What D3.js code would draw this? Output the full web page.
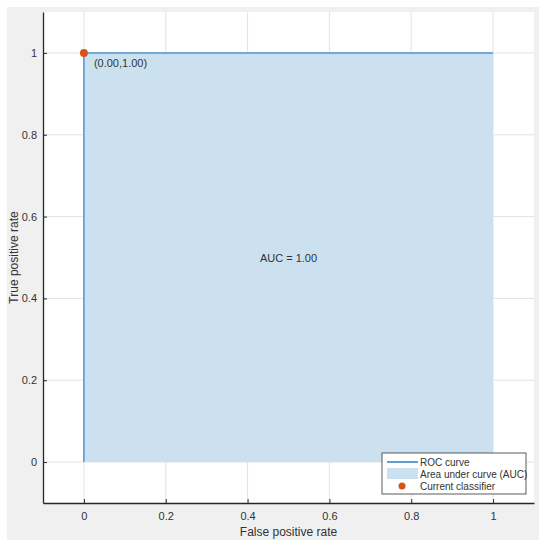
<!DOCTYPE html>
<html>
<head>
<meta charset="utf-8">
<script src="https://cdn.jsdelivr.net/npm/d3@7"></script>
<style>
  body { margin: 0; background: #fff; }
  text { font-family: "Liberation Sans", Arial, sans-serif; fill: #333; }
</style>
</head>
<body>
<script>
'use strict';

// ROC curve points (false positive rate, true positive rate)
const rocFpr = [0, 0, 1];
const rocTpr = [0, 1, 1];
// current classifier operating point
const currentPoint = { fpr: 0, tpr: 1 };
const aucValue = 1.00;
const xTicks = [0, 0.2, 0.4, 0.6, 0.8, 1];
const yTicks = [0, 0.2, 0.4, 0.6, 0.8, 1];
const legendLabels = ["ROC curve", "Area under curve (AUC)", "Current classifier"];

const width = 550, height = 548;
const blue = "#4f95cf", fillBlue = "#cbe1f0", orange = "#d95319";

const svg = d3.select("body").append("svg")
  .attr("width", width)
  .attr("height", height);

// gray figure panel
svg.append("rect")
  .attr("x", 7).attr("y", 7)
  .attr("width", 532).attr("height", 533)
  .attr("fill", "#f0f0f0");

const plot = { left: 43, right: 534, top: 12, bottom: 503 };

svg.append("rect")
  .attr("x", plot.left).attr("y", plot.top)
  .attr("width", plot.right - plot.left).attr("height", plot.bottom - plot.top)
  .attr("fill", "#fff");

const xScale = d3.scaleLinear().domain([-0.1, 1.1]).range([plot.left, plot.right]);
const yScale = d3.scaleLinear().domain([-0.1, 1.1]).range([plot.bottom, plot.top]);

// grid
svg.append("g").selectAll("line").data(xTicks).enter().append("line")
  .attr("x1", d => xScale(d)).attr("x2", d => xScale(d))
  .attr("y1", plot.top).attr("y2", plot.bottom)
  .attr("stroke", "#e3e3e3").attr("stroke-width", 1);
svg.append("g").selectAll("line").data(yTicks).enter().append("line")
  .attr("y1", d => yScale(d)).attr("y2", d => yScale(d))
  .attr("x1", plot.left).attr("x2", plot.right)
  .attr("stroke", "#e3e3e3").attr("stroke-width", 1);

// area under curve
const pts = rocFpr.map((x, i) => ({ x: x, y: rocTpr[i] }));
const area = d3.area()
  .x(d => xScale(d.x))
  .y0(yScale(0))
  .y1(d => yScale(d.y));
svg.append("path")
  .datum(pts)
  .attr("d", area)
  .attr("fill", fillBlue);

const line = d3.line().x(d => xScale(d.x)).y(d => yScale(d.y));
svg.append("path")
  .datum(pts)
  .attr("d", line)
  .attr("fill", "none")
  .attr("stroke", blue)
  .attr("stroke-width", 1.5);

// axes (MATLAB style: inward ticks)
const xAxis = d3.axisBottom(xScale).tickValues(xTicks).tickFormat(d3.format("~g"))
  .tickSizeInner(-4).tickSizeOuter(0).tickPadding(9);
const gx = svg.append("g")
  .attr("transform", "translate(0," + plot.bottom + ")")
  .call(xAxis);

const yAxis = d3.axisLeft(yScale).tickValues(yTicks).tickFormat(d3.format("~g"))
  .tickSizeInner(-4).tickSizeOuter(0).tickPadding(6);
const gy = svg.append("g")
  .attr("transform", "translate(" + plot.left + ",0)")
  .call(yAxis);

[gx, gy].forEach(g => {
  g.select(".domain").attr("stroke", "#262626").attr("stroke-width", 1.3);
  g.selectAll(".tick line").attr("stroke", "#262626");
  g.selectAll(".tick text")
    .attr("fill", "#404040")
    .style("font-family", '"Liberation Sans", Arial, sans-serif')
    .style("font-size", "11px");
});

// axis labels
svg.append("text")
  .attr("x", xScale(0.5)).attr("y", 536)
  .attr("text-anchor", "middle")
  .style("font-size", "12px")
  .text("False positive rate");

svg.append("text")
  .attr("transform", "translate(18," + yScale(0.5) + ")rotate(-90)")
  .attr("text-anchor", "middle")
  .style("font-size", "12px")
  .text("True positive rate");

// AUC annotation
svg.append("text")
  .attr("x", xScale(0.5)).attr("y", yScale(0.5) + 4)
  .attr("text-anchor", "middle")
  .style("font-size", "11px")
  .attr("fill", "#262626")
  .text("AUC = " + aucValue.toFixed(2));

// current classifier
svg.append("circle")
  .attr("cx", xScale(currentPoint.fpr)).attr("cy", yScale(currentPoint.tpr))
  .attr("r", 4)
  .attr("fill", orange);
svg.append("text")
  .attr("x", xScale(currentPoint.fpr) + 10).attr("y", yScale(currentPoint.tpr) + 14)
  .style("font-size", "11px")
  .attr("fill", "#262626")
  .text("(" + currentPoint.fpr.toFixed(2) + "," + currentPoint.tpr.toFixed(2) + ")");

// legend
const legend = svg.append("g").attr("transform", "translate(382,453)");
legend.append("rect")
  .attr("width", 144).attr("height", 41)
  .attr("fill", "#fff")
  .attr("stroke", "#333").attr("stroke-width", 0.8);
legend.append("line")
  .attr("x1", 5).attr("x2", 36).attr("y1", 9).attr("y2", 9)
  .attr("stroke", blue).attr("stroke-width", 1.8);
legend.append("rect")
  .attr("x", 5).attr("y", 15).attr("width", 31).attr("height", 11)
  .attr("fill", fillBlue);
legend.append("circle")
  .attr("cx", 20).attr("cy", 33).attr("r", 3.5)
  .attr("fill", orange);
legend.selectAll("text.lbl").data(legendLabels).enter().append("text")
  .attr("class", "lbl")
  .attr("x", 38).attr("y", (d, i) => 12.5 + i * 12)
  .style("font-size", "10px")
  .attr("fill", "#262626")
  .text(d => d);
</script>
</body>
</html>
